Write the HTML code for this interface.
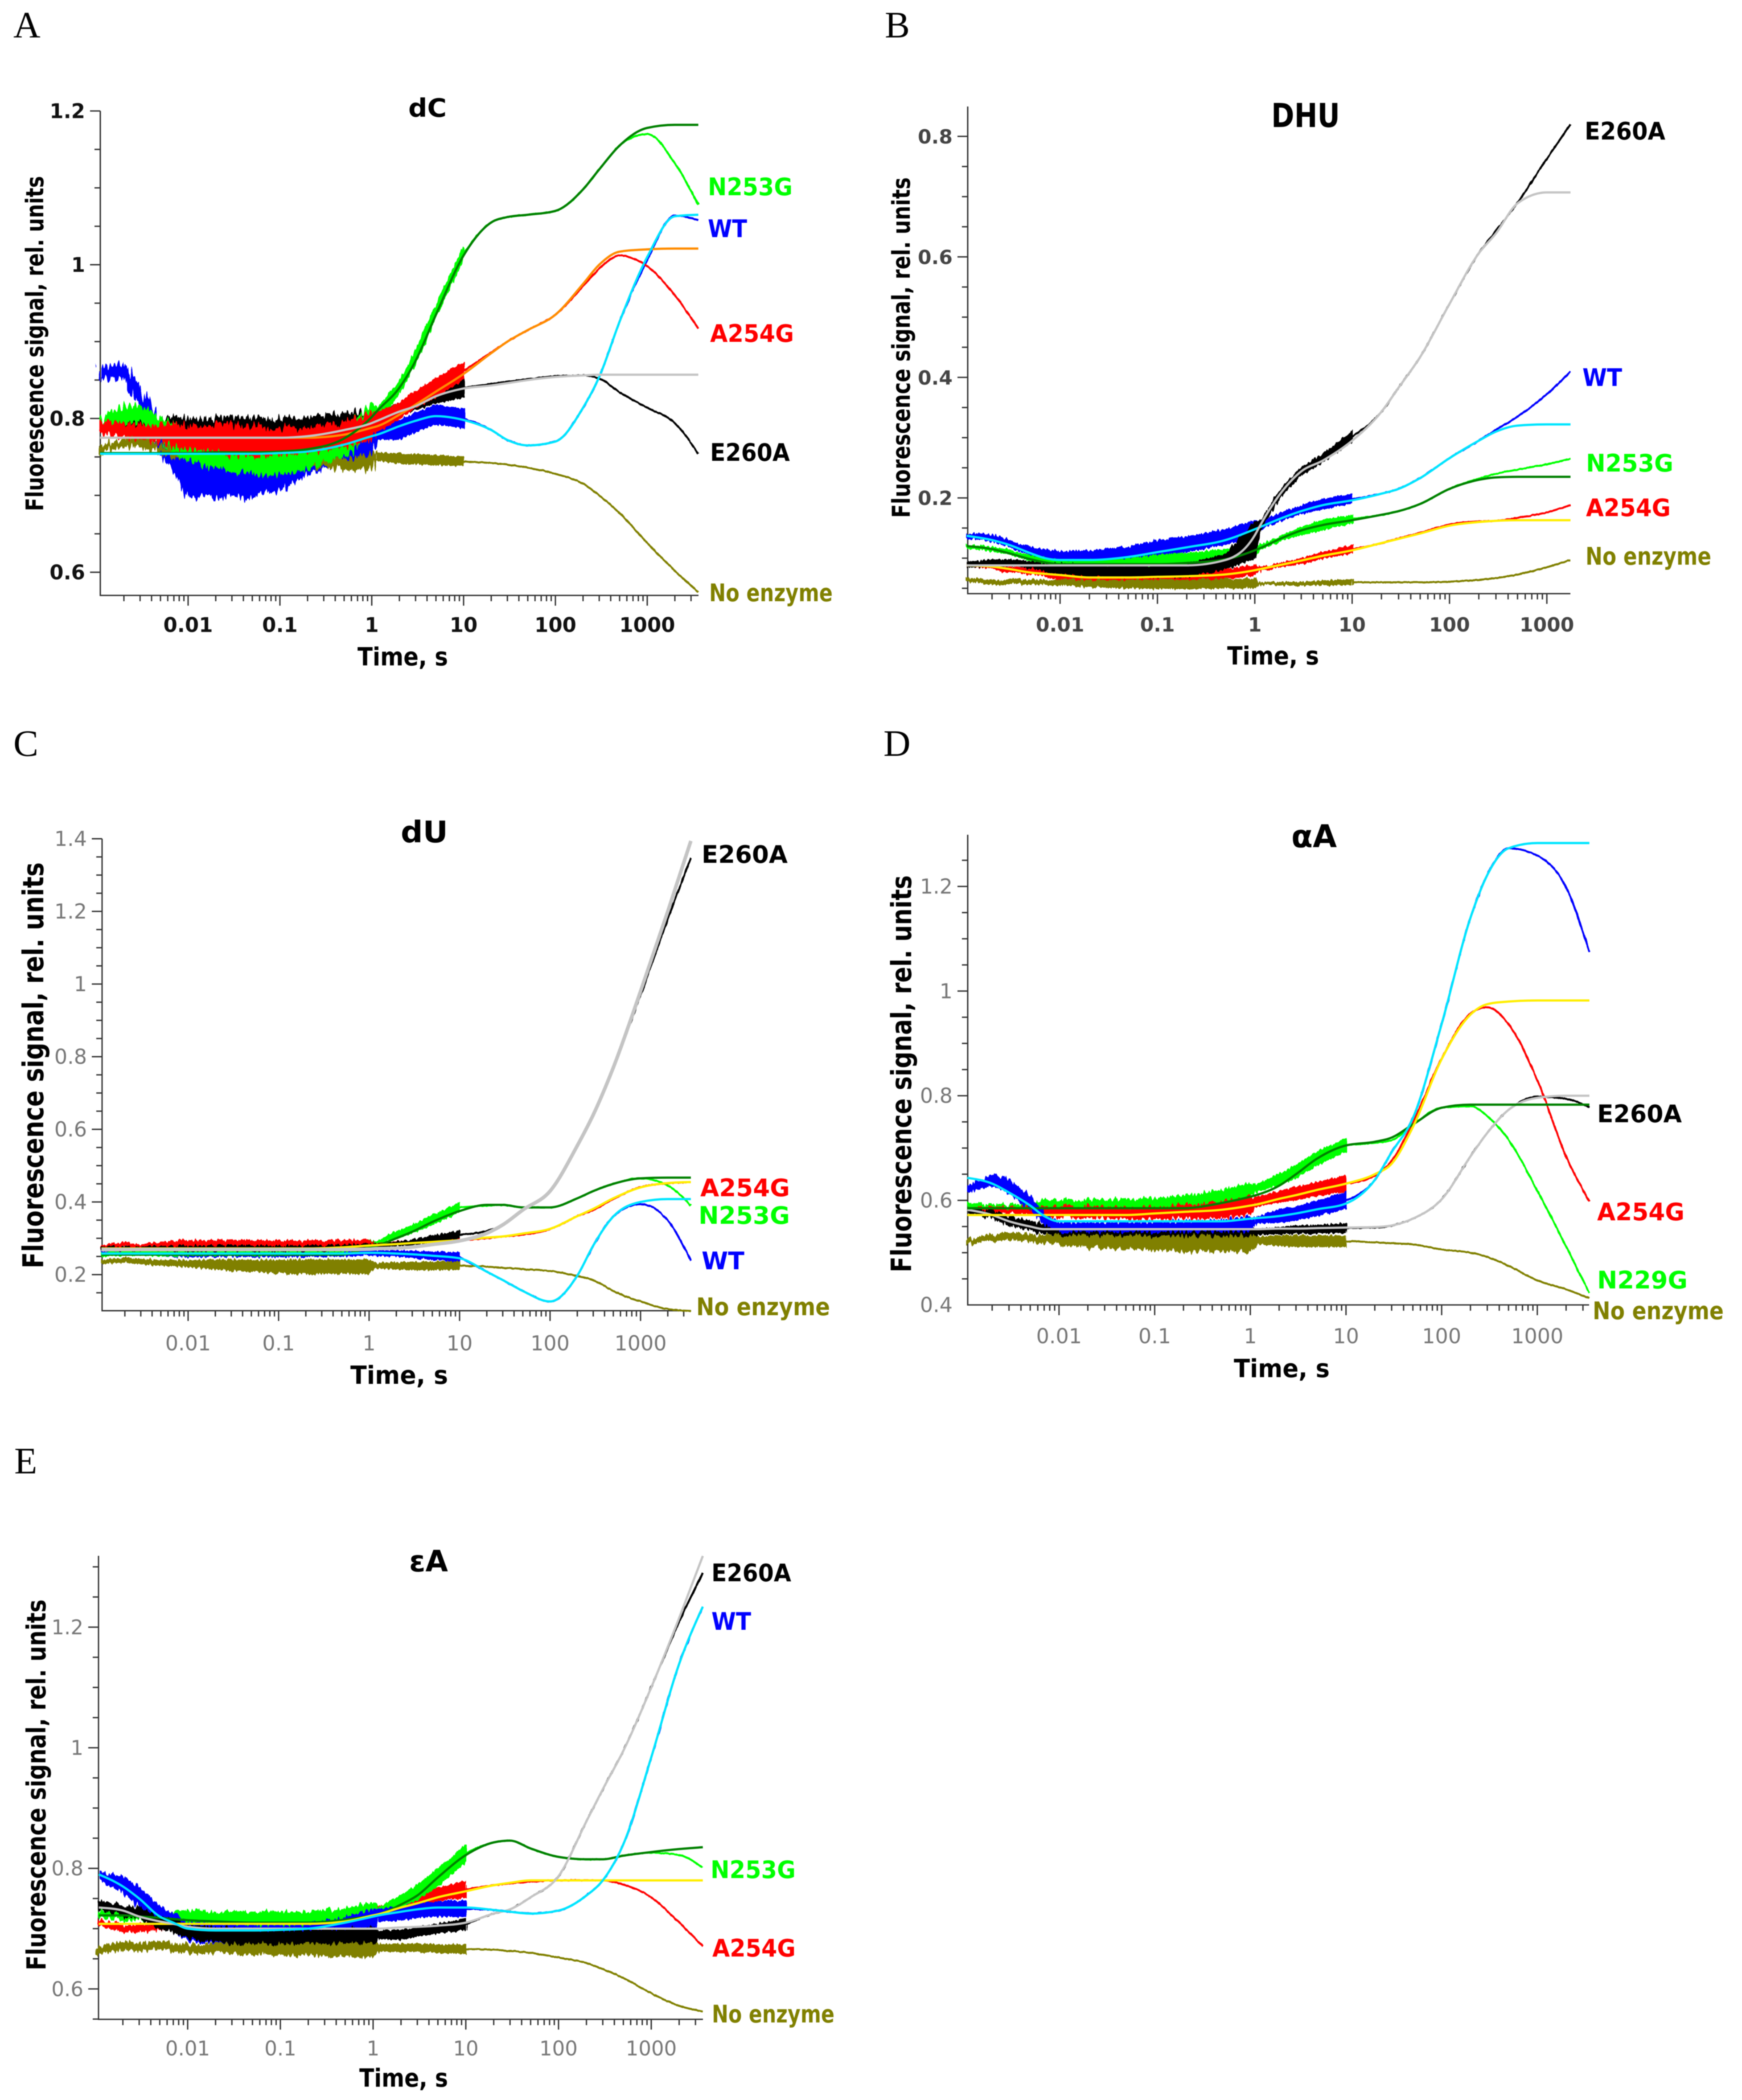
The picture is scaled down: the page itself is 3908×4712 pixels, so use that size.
<!DOCTYPE html>
<html lang="en">
<head>
<meta charset="utf-8">
<title>Fluorescence kinetics of enzyme variants</title>
<style>
html,body{margin:0;padding:0;background:#fff}
svg{display:block;filter:blur(1px)}
text{font-family:"DejaVu Sans","Liberation Sans",sans-serif}
</style>
</head>
<body>
<svg id="figure" xmlns="http://www.w3.org/2000/svg" width="3908" height="4712" viewBox="0 0 3908 4712">
<rect x="0" y="0" width="3908" height="4712" fill="#fff"/>
<defs>
<filter id="jagBig" x="-3%" y="-30%" width="106%" height="160%" color-interpolation-filters="sRGB">
<feTurbulence type="fractalNoise" baseFrequency="0.17 0.012" numOctaves="2" seed="7" result="n"/>
<feDisplacementMap in="SourceGraphic" in2="n" scale="38" xChannelSelector="R" yChannelSelector="G"/>
</filter>
<filter id="jagMid" x="-3%" y="-30%" width="106%" height="160%" color-interpolation-filters="sRGB">
<feTurbulence type="fractalNoise" baseFrequency="0.17 0.012" numOctaves="2" seed="11" result="n"/>
<feDisplacementMap in="SourceGraphic" in2="n" scale="22" xChannelSelector="R" yChannelSelector="G"/>
</filter>
<filter id="jagSmall" x="-3%" y="-30%" width="106%" height="160%" color-interpolation-filters="sRGB">
<feTurbulence type="fractalNoise" baseFrequency="0.2 0.012" numOctaves="2" seed="5" result="n"/>
<feDisplacementMap in="SourceGraphic" in2="n" scale="13" xChannelSelector="R" yChannelSelector="G"/>
</filter>
<filter id="jagLate" x="-3%" y="-30%" width="106%" height="160%" color-interpolation-filters="sRGB">
<feTurbulence type="fractalNoise" baseFrequency="0.2 0.02" numOctaves="2" seed="9" result="n"/>
<feDisplacementMap in="SourceGraphic" in2="n" scale="10" xChannelSelector="R" yChannelSelector="G"/>
</filter>
<filter id="jagTail" x="-3%" y="-10%" width="106%" height="120%" color-interpolation-filters="sRGB">
<feTurbulence type="fractalNoise" baseFrequency="0.14 0.03" numOctaves="2" seed="3" result="n"/>
<feDisplacementMap in="SourceGraphic" in2="n" scale="3" xChannelSelector="R" yChannelSelector="G"/>
</filter>
</defs>
</svg>
<script>
/* ---------- shared axis categories ---------- */
const timeSeconds = [0.0011,0.002,0.003,0.005,0.007,0.01,0.02,0.05,0.1,0.2,0.5, 1,1.15,2,3,5,10, 20,30,50,100,200,300, 500,1000,2000,3600];
const timeSecondsDHU = [0.0011,0.002,0.003,0.005,0.007,0.01,0.02,0.05,0.1,0.2,0.5, 1,1.15,2,3,5,10, 20,30,50,100,200,300, 500,1000,1750];
const timeSecondsAlphaA = [0.0011,0.002,0.003,0.005,0.007,0.01,0.02,0.05,0.1,0.2,0.5, 1,1.15,2,3,5,10, 20,30,50,100,200,300, 500,1000,2000,3500];
const xTickValues = [0.01,0.1,1,10,100,1000];
const xTickLabels = ['0.01','0.1','1','10','100','1000'];
const yTicksDC = [0.6,0.8,1,1.2];
const yTicksDHU = [0.2,0.4,0.6,0.8];
const yTicksDU = [0.2,0.4,0.6,0.8,1,1.2,1.4];
const yTicksAlphaA = [0.4,0.6,0.8,1,1.2];
const yTicksEpsA = [0.6,0.8,1,1.2];

/* ---------- panel A: dC ---------- */
const dC_E260A_raw = [.79,.79,.785,.788,.79,.788,.787,.787,.787,.789,.795, .80,.802,.812,.82,.83,.84, .845,.848,.851,.855,.856,.852, .834,.814,.794,.754];
const dC_E260A_fit = [.775,.775,.775,.775,.775,.775,.775,.775,.775,.777,.785, .794,.797,.809,.816,.829,.839, .843,.846,.85,.854,.856,.857, .857,.857,.857,.857];
const dC_E260A_spread = [.006,.006,.006,.008,.012,.012,.014,.014,.012,.012,.012, .01,.007,.008,.008,.01,.012];
const dC_WT_raw = [.859,.862,.83,.775,.752,.728,.728,.728,.735,.75,.76, .765,.785,.785,.795,.805,.80, .785,.772,.765,.77,.814,.854, .926,1.006,1.064,1.058];
const dC_WT_fit = [.754,.754,.754,.754,.754,.754,.754,.754,.755,.757,.766, .777,.779,.79,.797,.803,.798, .785,.772,.765,.77,.814,.854, .926,1.01,1.063,1.065];
const dC_WT_spread = [.008,.008,.012,.02,.022,.03,.03,.03,.028,.022,.02, .022,.012,.012,.012,.012,.012];
const dC_N253G_raw = [.795,.805,.805,.785,.775,.765,.755,.75,.75,.755,.77, .80,.805,.84,.88,.94,1.015, 1.055,1.062,1.065,1.07,1.098,1.124, 1.155,1.17,1.132,1.078];
const dC_N253G_fit = [.755,.755,.755,.755,.755,.755,.756,.756,.757,.76,.774, .802,.81,.84,.875,.935,1.012, 1.055,1.062,1.065,1.07,1.098,1.124, 1.155,1.178,1.182,1.182];
const dC_N253G_spread = [.006,.01,.012,.015,.018,.02,.02,.022,.022,.02,.02, .018,.008,.008,.008,.008,.008];
const dC_A254G_raw = [.788,.785,.78,.78,.778,.775,.775,.77,.77,.772,.78, .79,.795,.81,.825,.84,.862, .886,.9,.915,.935,.972,.995, 1.012,.998,.96,.917];
const dC_A254G_fit = [.775,.775,.775,.775,.775,.775,.775,.775,.775,.775,.779, .788,.79,.805,.818,.835,.858, .885,.9,.915,.935,.975,1.0, 1.017,1.02,1.021,1.021];
const dC_A254G_spread = [.008,.008,.008,.01,.014,.015,.018,.02,.016,.014,.016, .017,.012,.01,.01,.012,.01];
const dC_NoEnzyme_raw = [.76,.768,.77,.76,.755,.755,.752,.75,.745,.742,.74, .745,.75,.748,.747,.746,.744, .742,.74,.736,.728,.715,.70, .677,.638,.602,.574];
const dC_NoEnzyme_spread = [.004,.005,.005,.004,.004,.004,.004,.004,.004,.005,.006, .01,.005,.006,.006,.006,.005];

/* ---------- panel B: DHU ---------- */
const dhu_E260A_raw = [.089,.092,.092,.089,.085,.082,.079,.078,.078,.08,.094, .13,.156,.215,.244,.266,.302, .343,.383,.434,.522,.606,.643, .69,.763,.82];
const dhu_E260A_fit = [.088,.088,.088,.088,.088,.088,.088,.088,.088,.088,.097, .138,.156,.215,.244,.262,.295, .343,.383,.434,.522,.606,.639, .689,.707,.707];
const dhu_E260A_spread = [.004,.005,.005,.005,.006,.008,.009,.009,.009,.01,.012, .03,.006,.006,.006,.006,.008];
const dhu_WT_raw = [.138,.133,.124,.112,.105,.101,.102,.108,.117,.123,.135, .15,.155,.171,.18,.19,.198, .207,.215,.233,.266,.295,.313, .335,.372,.41];
const dhu_WT_fit = [.137,.13,.122,.108,.1,.097,.097,.102,.11,.118,.13, .148,.152,.168,.178,.188,.196, .207,.215,.233,.266,.295,.31, .32,.322,.322];
const dhu_WT_spread = [.003,.005,.005,.006,.008,.01,.01,.01,.012,.012,.012, .012,.006,.006,.006,.008,.007];
const dhu_N253G_raw = [.12,.115,.11,.1,.095,.09,.09,.092,.097,.1,.105, .115,.118,.135,.145,.155,.165, .172,.178,.19,.215,.232,.24, .247,.256,.265];
const dhu_N253G_fit = [.12,.115,.108,.098,.093,.09,.09,.09,.09,.092,.098, .113,.117,.135,.146,.155,.163, .172,.178,.19,.215,.23,.234, .235,.235,.235];
const dhu_N253G_spread = [.002,.003,.003,.004,.005,.005,.006,.007,.008,.008,.009, .012,.003,.004,.006,.008,.006];
const dhu_A254G_raw = [.088,.087,.08,.078,.075,.07,.068,.068,.069,.07,.074, .08,.082,.09,.095,.105,.115, .125,.133,.142,.156,.161,.162, .167,.176,.188];
const dhu_A254G_fit = [.088,.086,.082,.076,.074,.072,.068,.068,.069,.07,.073, .08,.082,.09,.096,.104,.113, .125,.132,.141,.154,.16,.162, .163,.163,.163];
const dhu_A254G_spread = [.002,.003,.004,.004,.004,.005,.005,.005,.006,.006,.007, .008,.002,.003,.004,.005,.006];
const dhu_NoEnzyme_raw = [.064,.06,.06,.06,.06,.06,.058,.057,.057,.057,.058, .058,.058,.058,.058,.059,.06, .06,.06,.06,.061,.064,.067, .073,.085,.097];
const dhu_NoEnzyme_spread = [.002,.003,.003,.003,.003,.004,.005,.006,.007,.007,.007, .007,.001,.002,.002,.003,.004];

/* ---------- panel C: dU ---------- */
const dU_E260A_raw = [.272,.272,.272,.272,.272,.272,.272,.272,.272,.272,.274, .277,.28,.285,.288,.298,.31, .32,.337,.378,.43,.555,.64, .77,.97,1.18,1.347];
const dU_E260A_fit = [.269,.269,.269,.269,.269,.269,.269,.269,.269,.269,.269, .27,.271,.273,.276,.283,.293, .314,.337,.378,.43,.555,.64, .77,.98,1.2,1.394];
const dU_E260A_spread = [.004,.004,.004,.005,.005,.006,.006,.006,.006,.006,.006, .006,.004,.005,.006,.008,.01];
const dU_WT_raw = [.26,.26,.26,.26,.26,.26,.26,.26,.26,.26,.26, .262,.26,.258,.256,.252,.248, .208,.185,.155,.126,.197,.279, .36,.394,.349,.238];
const dU_WT_fit = [.258,.258,.258,.258,.258,.258,.258,.258,.258,.258,.258, .26,.26,.258,.256,.252,.245, .208,.185,.155,.126,.197,.28, .36,.40,.408,.408];
const dU_WT_spread = [.003,.004,.005,.008,.01,.01,.01,.01,.01,.01,.008, .008,.006,.007,.008,.01,.012];
const dU_N253G_raw = [.255,.26,.26,.258,.258,.26,.26,.26,.26,.262,.27, .285,.285,.31,.325,.35,.385, .39,.392,.385,.385,.41,.43, .45,.465,.445,.39];
const dU_N253G_fit = [.255,.255,.255,.255,.255,.255,.255,.255,.255,.255,.255, .275,.278,.3,.318,.345,.375, .392,.392,.385,.385,.41,.43, .45,.465,.467,.467];
const dU_N253G_spread = [.004,.005,.005,.006,.006,.006,.006,.006,.006,.006,.007, .01,.003,.008,.01,.012,.012];
const dU_A254G_raw = [.275,.285,.278,.283,.285,.285,.285,.285,.285,.285,.286, .288,.283,.288,.29,.292,.295, .3,.305,.31,.325,.361,.378, .408,.441,.451,.455];
const dU_A254G_fit = [.272,.272,.272,.272,.272,.272,.272,.272,.272,.272,.275, .28,.281,.284,.287,.29,.295, .302,.305,.313,.326,.361,.381, .41,.44,.452,.455];
const dU_A254G_spread = [.004,.004,.004,.005,.007,.008,.008,.008,.008,.007,.007, .006,.002,.003,.003,.004,.004];
const dU_NoEnzyme_raw = [.235,.24,.236,.232,.232,.23,.228,.224,.222,.222,.222, .222,.225,.224,.224,.224,.225, .222,.219,.215,.21,.196,.185, .155,.126,.105,.1];
const dU_NoEnzyme_spread = [.004,.005,.006,.006,.007,.008,.012,.015,.017,.018,.018, .018,.006,.008,.01,.01,.01];

/* ---------- panel D: alpha-A ---------- */
const aA_E260A_raw = [.58,.572,.56,.552,.545,.54,.54,.538,.538,.538,.538, .538,.54,.542,.544,.545,.547, .548,.552,.565,.602,.684,.729, .773,.798,.794,.778];
const aA_E260A_fit = [.582,.572,.56,.55,.545,.545,.545,.545,.545,.545,.545, .545,.545,.546,.546,.547,.548, .549,.552,.565,.602,.684,.729, .773,.796,.8,.8];
const aA_E260A_spread = [.004,.006,.008,.008,.008,.006,.006,.007,.007,.007,.008, .009,.004,.006,.007,.007,.008];
const aA_WT_raw = [.622,.639,.627,.594,.565,.549,.549,.549,.549,.55,.552, .555,.562,.57,.575,.585,.6, .639,.692,.757,.937,1.14,1.222, 1.273,1.259,1.198,1.075];
const aA_WT_fit = [.643,.632,.615,.59,.57,.56,.56,.56,.56,.56,.56, .565,.566,.57,.575,.583,.594, .639,.692,.757,.937,1.14,1.222, 1.273,1.283,1.283,1.283];
const aA_WT_spread = [.006,.01,.012,.012,.01,.008,.008,.008,.009,.009,.01, .012,.005,.012,.012,.014,.015];
const aA_N229G_raw = [.59,.585,.585,.585,.59,.59,.59,.593,.595,.598,.607, .62,.623,.64,.655,.68,.706, .71,.715,.745,.777,.78,.761, .716,.618,.512,.423];
const aA_N229G_fit = [.585,.585,.585,.585,.585,.585,.585,.585,.585,.585,.595, .607,.61,.628,.65,.68,.705, .712,.72,.745,.777,.783,.783, .783,.783,.783,.783];
const aA_N229G_spread = [.004,.004,.006,.008,.01,.01,.01,.009,.008,.01,.012, .012,.006,.01,.012,.012,.012];
const aA_A254G_raw = [.58,.58,.58,.58,.578,.578,.578,.575,.575,.578,.582, .59,.597,.607,.613,.622,.632, .647,.676,.749,.871,.957,.969, .937,.83,.684,.598];
const aA_A254G_fit = [.572,.572,.572,.572,.572,.572,.572,.572,.575,.578,.582, .59,.592,.603,.61,.62,.632, .65,.67,.74,.87,.955,.975, .98,.982,.982,.982];
const aA_A254G_spread = [.004,.004,.005,.007,.008,.01,.01,.01,.01,.012,.015, .017,.008,.01,.012,.012,.015];
const aA_NoEnzyme_raw = [.52,.53,.532,.528,.526,.525,.522,.52,.518,.517,.517, .517,.524,.523,.522,.522,.522, .52,.518,.516,.506,.5,.492, .475,.447,.43,.413];
const aA_NoEnzyme_spread = [.004,.005,.006,.006,.007,.008,.01,.012,.012,.014,.014, .015,.006,.009,.01,.01,.01];

/* ---------- panel E: epsilon-A ---------- */
const eA_E260A_raw = [.74,.73,.725,.71,.705,.695,.69,.685,.685,.685,.685, .685,.69,.69,.695,.7,.707, .725,.732,.752,.787,.878,.931, .995,1.1,1.209,1.29];
const eA_E260A_fit = [.735,.73,.72,.712,.708,.703,.7,.7,.7,.7,.7, .7,.7,.702,.703,.705,.71, .725,.732,.752,.787,.878,.931, .995,1.1,1.215,1.318];
const eA_E260A_spread = [.006,.008,.008,.01,.01,.01,.012,.012,.012,.013,.014, .016,.006,.008,.007,.007,.009];
const eA_WT_raw = [.787,.773,.752,.724,.71,.695,.692,.69,.69,.695,.705, .715,.722,.725,.73,.733,.733, .731,.728,.725,.73,.755,.78, .84,.984,1.139,1.234];
const eA_WT_fit = [.79,.77,.75,.72,.71,.7,.697,.697,.698,.7,.71, .72,.722,.728,.732,.735,.735, .731,.728,.725,.73,.755,.78, .84,.984,1.139,1.234];
const eA_WT_spread = [.006,.012,.016,.014,.014,.014,.016,.016,.015,.012,.012, .016,.01,.01,.011,.012,.013];
const eA_N253G_raw = [.725,.72,.72,.715,.716,.718,.718,.716,.715,.716,.72, .73,.73,.745,.76,.785,.825, .843,.846,.833,.819,.815,.815, .821,.826,.822,.801];
const eA_N253G_fit = [.722,.722,.72,.718,.716,.714,.712,.71,.71,.71,.715, .722,.724,.74,.755,.785,.822, .843,.846,.833,.819,.815,.815, .821,.827,.832,.835];
const eA_N253G_spread = [.004,.006,.006,.008,.01,.01,.01,.012,.012,.012,.012, .012,.004,.01,.012,.014,.014];
const eA_A254G_raw = [.71,.7,.7,.705,.705,.705,.708,.71,.712,.714,.72, .73,.732,.74,.748,.757,.765, .772,.775,.778,.78,.78,.78, .773,.752,.71,.671];
const eA_A254G_fit = [.708,.708,.708,.708,.708,.708,.708,.708,.708,.708,.712, .722,.724,.735,.742,.752,.762, .772,.776,.78,.78,.78,.78, .78,.78,.78,.78];
const eA_A254G_spread = [.004,.005,.005,.006,.008,.008,.01,.01,.01,.01,.012, .01,.004,.008,.009,.01,.013];
const eA_NoEnzyme_raw = [.665,.672,.67,.672,.67,.668,.667,.666,.665,.665,.664, .664,.668,.668,.668,.667,.666, .665,.663,.66,.652,.643,.633, .618,.593,.572,.563];
const eA_NoEnzyme_spread = [.005,.006,.006,.006,.006,.006,.007,.008,.008,.009,.01, .012,.005,.006,.006,.006,.007];

/* ---------- colours ---------- */
const BLACK='#000000',BLUE='#0000ff',LIME='#00ff00',RED='#ff0000',OLIVE='#808000';
const GREY='#c4c4c4',CYAN='#00e5ff',DKGREEN='#008000',ORANGE='#ff8c00',YELLOW='#ffee00';

/* ---------- panel layout ---------- */
const panels = [
 {id:'dc',bandFilter:'jagBig',title:'dC',titleX:916,titleW:86,titleBase:262,titleSize:57,letter:'A',letterX:30,letterBase:84,
  box:{l:225,r:1567,t:249,b:1336},xOne:834,xDec:206,yRefPx:249,yRefVal:1.2,yUnit:1725,yTicks:yTicksDC,
  tickColor:'#111',tickWeight:'bold',tickSize:45,xLabelBase:1418,
  xTitle:{x:802,w:203,base:1493},yTitle:{x:97,top:395,bottom:1147,size:54},time:timeSeconds,
  raw:[{n:'wt',v:dC_WT_raw,s:dC_WT_spread,c:BLUE},{n:'no-enzyme',v:dC_NoEnzyme_raw,s:dC_NoEnzyme_spread,c:OLIVE},{n:'e260a',v:dC_E260A_raw,s:dC_E260A_spread,c:BLACK},{n:'n253g',v:dC_N253G_raw,s:dC_N253G_spread,c:LIME},{n:'a254g',v:dC_A254G_raw,s:dC_A254G_spread,c:RED}],
  fits:[{n:'a254g',v:dC_A254G_fit,c:ORANGE},{n:'n253g',v:dC_N253G_fit,c:DKGREEN},{n:'wt',v:dC_WT_fit,c:CYAN},{n:'e260a',v:dC_E260A_fit,c:GREY}],
  labels:[['N253G',1588,438,190,LIME],['WT',1588,532,88,BLUE],['A254G',1593,767,188,RED],['E260A',1593,1034,179,BLACK],['No enzyme',1591,1349,277,OLIVE]]},
 {id:'dhu',bandFilter:'jagSmall',title:'DHU',titleX:2852,titleW:154,titleBase:285,titleSize:74,letter:'B',letterX:1985,letterBase:84,
  box:{l:2171,r:3523,t:239,b:1332},xOne:2815,xDec:218.4,yRefPx:306,yRefVal:.8,yUnit:1352,yTicks:yTicksDHU,
  tickColor:'#444',tickWeight:'bold',tickSize:44,xLabelBase:1417,
  xTitle:{x:2753,w:206,base:1491},yTitle:{x:2041,top:398,bottom:1162,size:55},time:timeSecondsDHU,
  raw:[{n:'wt',v:dhu_WT_raw,s:dhu_WT_spread,c:BLUE},{n:'n253g',v:dhu_N253G_raw,s:dhu_N253G_spread,c:LIME},{n:'a254g',v:dhu_A254G_raw,s:dhu_A254G_spread,c:RED},{n:'no-enzyme',v:dhu_NoEnzyme_raw,s:dhu_NoEnzyme_spread,c:OLIVE},{n:'e260a',v:dhu_E260A_raw,s:dhu_E260A_spread,c:BLACK}],
  fits:[{n:'n253g',v:dhu_N253G_fit,c:DKGREEN},{n:'a254g',v:dhu_A254G_fit,c:YELLOW},{n:'wt',v:dhu_WT_fit,c:CYAN},{n:'e260a',v:dhu_E260A_fit,c:GREY}],
  labels:[['E260A',3555,313,181,BLACK],['WT',3550,866,89,BLUE],['N253G',3558,1058,196,LIME],['A254G',3558,1158,190,RED],['No enzyme',3557,1267,282,OLIVE]]},
 {id:'du',bandFilter:'jagSmall',title:'dU',titleX:899,titleW:106,titleBase:1890,titleSize:67,letter:'C',letterX:30,letterBase:1696,
  box:{l:229,r:1548,t:1882,b:2941},xOne:828,xDec:203,yRefPx:1882,yRefVal:1.4,yUnit:815,yTicks:yTicksDU,
  tickColor:'#777',tickWeight:'normal',tickSize:46,xLabelBase:3030,
  xTitle:{x:786,w:219,base:3105},yTitle:{x:97,top:1935,bottom:2846,size:64},time:timeSeconds,
  raw:[{n:'wt',v:dU_WT_raw,s:dU_WT_spread,c:BLUE},{n:'n253g',v:dU_N253G_raw,s:dU_N253G_spread,c:LIME},{n:'a254g',v:dU_A254G_raw,s:dU_A254G_spread,c:RED},{n:'e260a',v:dU_E260A_raw,s:dU_E260A_spread,c:BLACK},{n:'no-enzyme',v:dU_NoEnzyme_raw,s:dU_NoEnzyme_spread,c:OLIVE}],
  fits:[{n:'n253g',v:dU_N253G_fit,c:DKGREEN},{n:'wt',v:dU_WT_fit,c:CYAN},{n:'a254g',v:dU_A254G_fit,c:YELLOW},{n:'e260a',v:dU_E260A_fit,c:GREY,w:8}],
  labels:[['E260A',1574,1936,193,BLACK],['A254G',1571,2684,201,RED],['N253G',1567,2746,205,LIME],['WT',1574,2848,96,BLUE],['No enzyme',1562,2951,300,OLIVE]]},
 {id:'alpha-a',bandFilter:'jagMid',title:'αA',titleX:2897,titleW:102,titleBase:1901,titleSize:70,letter:'D',letterX:1982,letterBase:1696,
  box:{l:2171,r:3565,t:1873,b:2928},xOne:2805,xDec:214.6,yRefPx:1989,yRefVal:1.2,yUnit:1174,yTicks:yTicksAlphaA,
  tickColor:'#777',tickWeight:'normal',tickSize:46,xLabelBase:3014,
  xTitle:{x:2768,w:215,base:3090},yTitle:{x:2044,top:1964,bottom:2855,size:62},time:timeSecondsAlphaA,
  raw:[{n:'n229g',v:aA_N229G_raw,s:aA_N229G_spread,c:LIME},{n:'a254g',v:aA_A254G_raw,s:aA_A254G_spread,c:RED},{n:'e260a',v:aA_E260A_raw,s:aA_E260A_spread,c:BLACK},{n:'wt',v:aA_WT_raw,s:aA_WT_spread,c:BLUE},{n:'no-enzyme',v:aA_NoEnzyme_raw,s:aA_NoEnzyme_spread,c:OLIVE}],
  fits:[{n:'e260a',v:aA_E260A_fit,c:GREY},{n:'n229g',v:aA_N229G_fit,c:DKGREEN},{n:'a254g',v:aA_A254G_fit,c:YELLOW},{n:'wt',v:aA_WT_fit,c:CYAN}],
  labels:[['E260A',3583,2518,190,BLACK],['A254G',3583,2738,196,RED],['N229G',3583,2891,203,LIME],['No enzyme',3573,2960,294,OLIVE]]},
 {id:'epsilon-a',bandFilter:'jagMid',title:'εA',titleX:918,titleW:87,titleBase:3526,titleSize:66,letter:'E',letterX:32,letterBase:3306,
  box:{l:221,r:1577,t:3491,b:4531},xOne:837,xDec:208,yRefPx:3651,yRefVal:1.2,yUnit:1353,yTicks:yTicksEpsA,
  tickColor:'#777',tickWeight:'normal',tickSize:45,xLabelBase:4612,
  xTitle:{x:806,w:199,base:4682},yTitle:{x:102,top:3589,bottom:4421,size:59},time:timeSeconds,
  raw:[{n:'a254g',v:eA_A254G_raw,s:eA_A254G_spread,c:RED},{n:'n253g',v:eA_N253G_raw,s:eA_N253G_spread,c:LIME},{n:'wt',v:eA_WT_raw,s:eA_WT_spread,c:BLUE},{n:'e260a',v:eA_E260A_raw,s:eA_E260A_spread,c:BLACK},{n:'no-enzyme',v:eA_NoEnzyme_raw,s:eA_NoEnzyme_spread,c:OLIVE}],
  fits:[{n:'n253g',v:eA_N253G_fit,c:DKGREEN},{n:'a254g',v:eA_A254G_fit,c:YELLOW},{n:'e260a',v:eA_E260A_fit,c:GREY},{n:'wt',v:eA_WT_fit,c:CYAN}],
  labels:[['E260A',1596,3548,179,BLACK],['WT',1596,3657,89,BLUE],['N253G',1594,4214,191,LIME],['A254G',1598,4390,187,RED],['No enzyme',1597,4538,275,OLIVE]]}
];

/* ---------- drawing helpers ---------- */
const NS='http://www.w3.org/2000/svg';
const root=document.getElementById('figure');
function make(tag,parent){
  const e=document.createElementNS(NS,tag);
  parent.appendChild(e);
  return e;
}
function monotonePath(p){
  const n=p.length,h=[],m=[],t=[];
  for(let i=0;i<n-1;i++){h[i]=p[i+1][0]-p[i][0];m[i]=(p[i+1][1]-p[i][1])/h[i];}
  for(let i=1;i<n-1;i++){
    const q=(m[i-1]*h[i]+m[i]*h[i-1])/(h[i-1]+h[i]);
    t[i]=(Math.sign(m[i-1])+Math.sign(m[i]))*Math.min(Math.abs(m[i-1]),Math.abs(m[i]),0.5*Math.abs(q))||0;
  }
  t[0]=n>2?(3*m[0]-t[1])/2:m[0];
  t[n-1]=n>2?(3*m[n-2]-t[n-2])/2:m[0];
  let d='M'+p[0][0].toFixed(1)+' '+p[0][1].toFixed(1);
  for(let i=0;i<n-1;i++){
    const c=h[i]/3;
    d+='C'+(p[i][0]+c).toFixed(1)+' '+(p[i][1]+c*t[i]).toFixed(1)+' '+(p[i+1][0]-c).toFixed(1)+' '+(p[i+1][1]-c*t[i+1]).toFixed(1)+' '+p[i+1][0].toFixed(1)+' '+p[i+1][1].toFixed(1);
  }
  return d;
}
function styleText(el,o){
  el.setAttribute('font-size',o.size);
  el.setAttribute('font-weight',o.weight||'bold');
  el.setAttribute('fill',o.fill||'#000');
  if(o.width){
    el.setAttribute('textLength',o.width);
    el.setAttribute('lengthAdjust','spacingAndGlyphs');
  }
}

panels.forEach(function(P){
  const xAt=function(t){return P.xOne+P.xDec*Math.log10(t);};
  const yAt=function(v){return P.yRefPx+(P.yRefVal-v)*P.yUnit;};
  const vBottom=P.yRefVal-(P.box.b-P.yRefPx)/P.yUnit;
  const vTop=P.yRefVal+(P.yRefPx-P.box.t)/P.yUnit;

  const g=make('g',root);
  
  

  /* panel letter */
  const letter=make('text',g);
  
  
  letter.setAttribute('x',P.letterX);
  letter.setAttribute('y',P.letterBase);
  letter.setAttribute('style','font-family:"Liberation Serif",serif');
  styleText(letter,{size:84,weight:'normal',fill:'#000'});
  letter.textContent=P.letter;

  /* chart title */
  const title=make('text',g);
  
  
  title.setAttribute('x',P.titleX);
  title.setAttribute('y',P.titleBase);
  styleText(title,{size:P.titleSize,width:P.titleW});
  title.textContent=P.title;

  /* axes */
  const yAxis=make('line',g);
  
  
  yAxis.setAttribute('x1',P.box.l);yAxis.setAttribute('x2',P.box.l);
  yAxis.setAttribute('y1',P.box.t);yAxis.setAttribute('y2',P.box.b+1.5);
  yAxis.setAttribute('stroke','#333');yAxis.setAttribute('stroke-width','3');
  const xAxis=make('line',g);
  
  
  xAxis.setAttribute('x1',P.box.l);xAxis.setAttribute('x2',P.box.r);
  xAxis.setAttribute('y1',P.box.b);xAxis.setAttribute('y2',P.box.b);
  xAxis.setAttribute('stroke','#333');xAxis.setAttribute('stroke-width','3');

  /* y ticks: minors every 0.05 */
  for(let k=Math.ceil(vBottom/0.05-1e-6);k*0.05<=vTop+1e-6;k++){
    const v=k*0.05;
    const major=P.yTicks.some(function(q){return Math.abs(q-v)<1e-6;});
    const tk=make('line',g);
    
    
    tk.setAttribute('x1',P.box.l-(major?23:13));tk.setAttribute('x2',P.box.l);
    tk.setAttribute('y1',yAt(v));tk.setAttribute('y2',yAt(v));
    tk.setAttribute('stroke','#333');tk.setAttribute('stroke-width','3');
  }
  P.yTicks.forEach(function(v){
    const lab=make('text',g);
    
    
    lab.setAttribute('x',P.box.l-34);
    lab.setAttribute('y',yAt(v)+16);
    lab.setAttribute('text-anchor','end');
    styleText(lab,{size:P.tickSize,weight:P.tickWeight,fill:P.tickColor});
    lab.textContent=String(v);
  });

  /* x ticks: minors 2..9 per decade */
  for(let d=-3;d<=3;d++){
    for(let m=2;m<=9;m++){
      const t=m*Math.pow(10,d),px=xAt(t);
      if(px<=P.box.l||px>=P.box.r)continue;
      const tk=make('line',g);
      
      
      tk.setAttribute('x1',px);tk.setAttribute('x2',px);
      tk.setAttribute('y1',P.box.b);tk.setAttribute('y2',P.box.b+13);
      tk.setAttribute('stroke','#333');tk.setAttribute('stroke-width','3');
    }
  }
  xTickValues.forEach(function(t,i){
    const tk=make('line',g);
    
    
    tk.setAttribute('x1',xAt(t));tk.setAttribute('x2',xAt(t));
    tk.setAttribute('y1',P.box.b);tk.setAttribute('y2',P.box.b+23);
    tk.setAttribute('stroke','#333');tk.setAttribute('stroke-width','3');
    const lab=make('text',g);
    
    
    lab.setAttribute('x',xAt(t));
    lab.setAttribute('y',P.xLabelBase);
    lab.setAttribute('text-anchor','middle');
    styleText(lab,{size:P.tickSize,weight:P.tickWeight,fill:P.tickColor});
    lab.textContent=xTickLabels[i];
  });

  /* axis titles */
  const xt=make('text',g);
  
  
  xt.setAttribute('x',P.xTitle.x);
  xt.setAttribute('y',P.xTitle.base);
  styleText(xt,{size:56,width:P.xTitle.w});
  xt.textContent='Time, s';
  const yt=make('text',g);
  
  
  yt.setAttribute('x',0);yt.setAttribute('y',0);
  yt.setAttribute('transform','translate('+P.yTitle.x+' '+P.yTitle.bottom+') rotate(-90)');
  styleText(yt,{size:P.yTitle.size,width:P.yTitle.bottom-P.yTitle.top});
  yt.textContent='Fluorescence signal, rel. units';

  /* noisy raw-data bands: dense sampling up to ~1 s, sparser from 1 s to 10 s */
  const SPLIT=12;
  const bandsEarly=make('g',g);
  
  
  bandsEarly.setAttribute('filter','url(#'+P.bandFilter+')');
  const bandsLate=make('g',g);
  
  
  bandsLate.setAttribute('filter','url(#jagLate)');
  P.raw.forEach(function(S){
    const upA=[],loA=[],upB=[],loB=[];
    S.s.forEach(function(sp,i){
      const px=xAt(P.time[i]).toFixed(1);
      if(i<=SPLIT){
        upA.push(px+','+yAt(S.v[i]+sp).toFixed(1));
        loA.unshift(px+','+yAt(S.v[i]-sp).toFixed(1));
      }
      if(i>=SPLIT){
        upB.push(px+','+yAt(S.v[i]+sp).toFixed(1));
        loB.unshift(px+','+yAt(S.v[i]-sp).toFixed(1));
      }
    });
    const bandA=make('polygon',bandsEarly);
    
    
    bandA.setAttribute('points',upA.concat(loA).join(' '));
    bandA.setAttribute('fill',S.c);
    bandA.setAttribute('stroke',S.c);
    bandA.setAttribute('stroke-width','3');
    const bandB=make('polygon',bandsLate);
    
    
    bandB.setAttribute('points',upB.concat(loB).join(' '));
    bandB.setAttribute('fill',S.c);
    bandB.setAttribute('stroke',S.c);
    bandB.setAttribute('stroke-width','3');
  });

  /* raw-data tails after 10 s */
  const tails=make('g',g);
  
  
  tails.setAttribute('filter','url(#jagTail)');
  P.raw.forEach(function(S){
    const pts=[];
    for(let i=S.s.length-1;i<S.v.length;i++){pts.push([xAt(P.time[i]),yAt(S.v[i])]);}
    const line=make('path',tails);
    
    
    line.setAttribute('d',monotonePath(pts));
    line.setAttribute('fill','none');
    line.setAttribute('stroke',S.c);
    line.setAttribute('stroke-width','4.5');
  });

  /* fit curves */
  P.fits.forEach(function(S){
    const pts=S.v.map(function(v,i){return [xAt(P.time[i]),yAt(v)];});
    const line=make('path',g);
    
    
    line.setAttribute('d',monotonePath(pts));
    line.setAttribute('fill','none');
    line.setAttribute('stroke',S.c);
    line.setAttribute('stroke-width',S.w||5);
  });

  /* series labels */
  P.labels.forEach(function(L){
    const lab=make('text',g);
    
    
    lab.setAttribute('x',L[1]);
    lab.setAttribute('y',L[2]);
    styleText(lab,{size:54,width:L[3],fill:L[4]});
    lab.textContent=L[0];
  });
});
</script>
</body>
</html>
